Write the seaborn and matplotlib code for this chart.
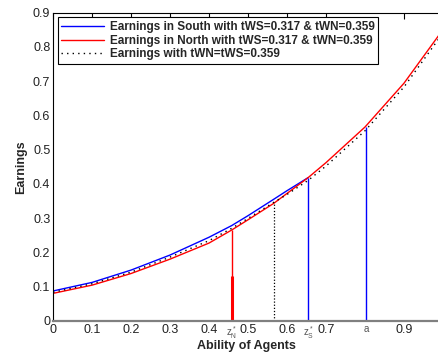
import matplotlib
matplotlib.use("Agg")
import matplotlib.pyplot as plt
import matplotlib.transforms as mtransforms
import seaborn as sns
import pandas as pd

# ---- data ----
x_pts = [0, 0.1, 0.2, 0.3, 0.4, 0.458, 0.5, 0.566, 0.6, 0.654, 0.7, 0.8, 0.9, 0.99]
north = [0.080, 0.104, 0.138, 0.180, 0.227, 0.265, 0.295, 0.343, 0.372, 0.418, 0.462, 0.566, 0.694, 0.835]
south_x = [0, 0.1, 0.2, 0.3, 0.4, 0.458, 0.5, 0.566, 0.6, 0.654]
south = [0.087, 0.112, 0.148, 0.192, 0.244, 0.278, 0.307, 0.355, 0.380, 0.418]
equal = [0.083, 0.108, 0.142, 0.186, 0.234, 0.270, 0.299, 0.346, 0.369, 0.410, 0.452, 0.555, 0.683, 0.825]

z_N, z_N_top, z_N_thick = 0.458, 0.265, 0.13
z_S, z_S_top = 0.654, 0.418
a_val, a_top = 0.8025, 0.566
z_eq, z_eq_top = 0.566, 0.346

labels = ["Earnings in South with tWS=0.317 & tWN=0.359",
          "Earnings in North with tWS=0.317 & tWN=0.359",
          "Earnings with tWN=tWS=0.359"]

yticks = [0, 0.1, 0.2, 0.3, 0.4, 0.5, 0.6, 0.7, 0.8, 0.9]
ytick_labels = ["0", "0.1", "0.2", "0.3", "0.4", "0.5", "0.6", "0.7", "0.8", "0.9"]
xticks = [0, 0.1, 0.2, 0.3, 0.4, 0.5, 0.6, 0.7, 0.9]
xtick_labels = ["0", "0.1", "0.2", "0.3", "0.4", "0.5", "0.6", "0.7", "0.9"]
special_ticks = [z_N, z_S, a_val]
special_labels = [r"$z^*_N$", r"$z^*_S$", "a"]

sns.set_style("white")
plt.rcParams["font.family"] = ["Liberation Sans", "DejaVu Sans"]
plt.rcParams["mathtext.fontset"] = "custom"
plt.rcParams["mathtext.rm"] = "Liberation Sans"
plt.rcParams["mathtext.it"] = "Liberation Sans"

fig = plt.figure(figsize=(4.39, 3.54), dpi=100)
ax = fig.add_axes([0.121, 0.094, 0.888, 0.870])

df_s = pd.DataFrame({"x": south_x, "y": south})
df_n = pd.DataFrame({"x": x_pts, "y": north})
df_e = pd.DataFrame({"x": x_pts, "y": equal})

sns.lineplot(data=df_s, x="x", y="y", ax=ax, color="#0000ff", lw=1.0, label=labels[0], sort=False)
sns.lineplot(data=df_n, x="x", y="y", ax=ax, color="#ff0000", lw=1.0, label=labels[1], sort=False)
sns.lineplot(data=df_e, x="x", y="y", ax=ax, color="black", lw=1.0, ls=(0, (1, 3)), label=labels[2], sort=False)

# vertical markers
ax.vlines(z_N, 0, z_N_top, color="#ff0000", lw=1.0)
ax.vlines(z_N, 0, z_N_thick, color="#ff0000", lw=2.2)
ax.vlines(z_S, 0, z_S_top, color="#0000ff", lw=1.0)
ax.vlines(a_val, 0, a_top, color="#0000ff", lw=1.0)
ax.vlines(z_eq, 0, z_eq_top, color="black", lw=0.9, ls=(0, (1, 1.5)))

ax.set_xlim(0, 1.0)
ax.set_ylim(0, 0.9)

ax.set_yticks(yticks)
ax.set_yticklabels(ytick_labels)
ax.set_xticks(xticks)
ax.set_xticklabels(xtick_labels)

# special x tick labels (z*_N, z*_S, a)
trans = mtransforms.blended_transform_factory(ax.transData, ax.transAxes)
for xv, lab in zip(special_ticks, special_labels):
    ax.text(xv, -0.010, lab, transform=trans, ha="center", va="top",
            fontsize=7, color="#555555")

ax.tick_params(axis="both", direction="in", length=4, width=0.8, color="black",
               labelsize=9, labelcolor="#222222", top=True, right=False, pad=2)

for s in ["left", "top", "right"]:
    ax.spines[s].set_color("black")
    ax.spines[s].set_linewidth(0.8)
ax.spines["bottom"].set_color("#808080")
ax.spines["bottom"].set_linewidth(1.6)

ax.set_xlabel("Ability of Agents", fontsize=9, fontweight="bold")
ax.xaxis.set_label_coords(0.495, -0.064)
ax.set_ylabel("Earnings", fontsize=9, fontweight="bold", labelpad=4)

leg = ax.legend(loc="upper left", bbox_to_anchor=(0.012, 0.985), frameon=True,
                fancybox=False, edgecolor="black", framealpha=1,
                prop={"weight": "bold", "size": 8.5}, handlelength=3.6,
                borderpad=0.3, labelspacing=0.15, handletextpad=0.5, borderaxespad=0)
leg.get_frame().set_linewidth(0.8)

fig.savefig("out.png", dpi=100)
